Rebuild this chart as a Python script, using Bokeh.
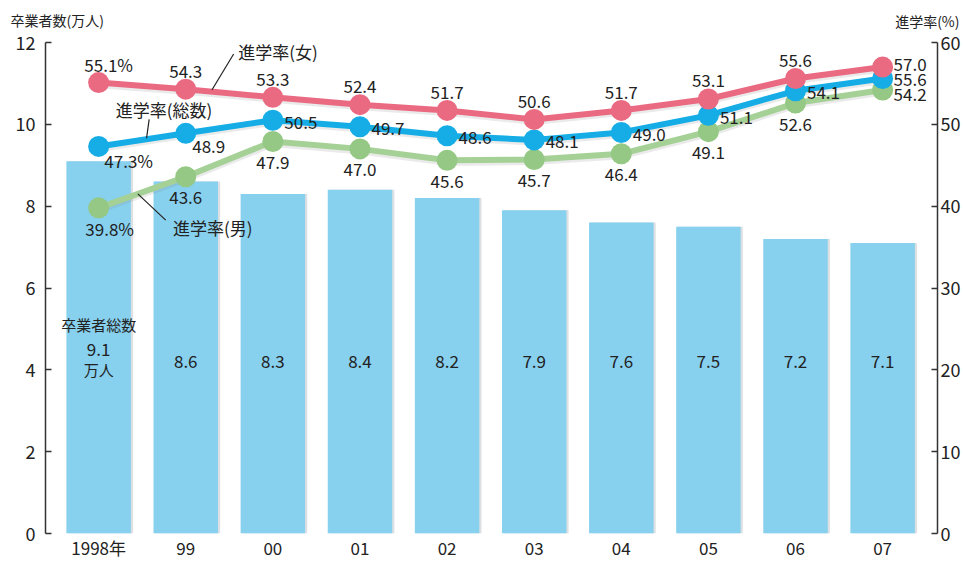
from bokeh.plotting import figure
from bokeh.models import Range1d, LinearAxis, FixedTicker, Title, ColumnDataSource
from bokeh.core.properties import value
from bokeh.embed import file_html
from bokeh.resources import INLINE

# ---- data ----
years = ["1998年", "99", "00", "01", "02", "03", "04", "05", "06", "07"]
graduates = [9.1, 8.6, 8.3, 8.4, 8.2, 7.9, 7.6, 7.5, 7.2, 7.1]          # 万人
rate_female = [55.1, 54.3, 53.3, 52.4, 51.7, 50.6, 51.7, 53.1, 55.6, 57.0]
rate_total = [47.3, 48.9, 50.5, 49.7, 48.6, 48.1, 49.0, 51.1, 54.1, 55.6]
rate_male = [39.8, 43.6, 47.9, 47.0, 45.6, 45.7, 46.4, 49.1, 52.6, 54.2]
left_ticks = [0, 2, 4, 6, 8, 10, 12]
right_ticks = [0, 10, 20, 30, 40, 50, 60]

FONT = "Noto Sans CJK JP"
BAR = "#87d0ee"
PINK = "#ea6a82"
BLUE = "#16ade6"
GREEN = "#94c884"
GREEN_LINE = "#a5d196"
TXT = "#222222"
AX = "#333333"

n = len(years)
xs = list(range(n))

p = figure(width=963, height=562, output_backend="svg", toolbar_location=None,
           x_range=Range1d(-0.61, 9.63), y_range=Range1d(0, 12),
           min_border_left=45, min_border_right=20, min_border_top=40, min_border_bottom=10)
p.extra_y_ranges = {"rate": Range1d(0, 60)}
p.outline_line_color = None
p.grid.grid_line_color = None
p.background_fill_color = "white"
p.border_fill_color = "white"

# axis titles (left one = outer row, right one = inner row)
p.title.text = "卒業者数(万人)"
p.title.align = "left"
p.title.offset = -35
p.title.vertical_align = "bottom"
p.title.standoff = -58
p.title.text_font = FONT
p.title.text_font_size = "14px"
p.title.text_font_style = "normal"
p.title.text_color = TXT
p.add_layout(Title(text="進学率(%)", align="right", offset=-22, standoff=20, vertical_align="top",
                   text_font=FONT, text_font_size="14px", text_font_style="normal",
                   text_color=TXT), "above")

# axes
p.xaxis.ticker = FixedTicker(ticks=xs)
p.xaxis.major_label_overrides = {i: years[i] for i in xs}
p.xaxis.axis_line_color = None
p.xaxis.major_tick_line_color = None
p.xaxis.major_tick_in = 0
p.xaxis.major_tick_out = 0
p.xaxis.minor_tick_line_color = None
p.xaxis.major_label_text_font = FONT
p.xaxis.major_label_text_font_size = "17px"
p.xaxis.major_label_text_color = TXT
p.xaxis.major_label_standoff = 1

p.yaxis.ticker = FixedTicker(ticks=left_ticks)
p.yaxis.axis_line_color = AX
p.yaxis.axis_line_width = 1.5
p.yaxis.major_tick_in = 6
p.yaxis.major_tick_out = 0
p.yaxis.major_tick_line_color = AX
p.yaxis.major_tick_line_width = 1.5
p.yaxis.minor_tick_line_color = None
p.yaxis.major_label_text_font = FONT
p.yaxis.major_label_text_font_size = "18px"
p.yaxis.major_label_text_color = TXT
p.yaxis.major_label_standoff = 10

ry = LinearAxis(y_range_name="rate", ticker=FixedTicker(ticks=right_ticks))
ry.axis_line_color = AX
ry.axis_line_width = 1.5
ry.major_tick_in = 6
ry.major_tick_out = 0
ry.major_tick_line_color = AX
ry.major_tick_line_width = 1.5
ry.minor_tick_line_color = None
ry.major_label_text_font = FONT
ry.major_label_text_font_size = "18px"
ry.major_label_text_color = TXT
ry.major_label_standoff = 3
p.add_layout(ry, "right")

# bars
bsrc = ColumnDataSource(dict(x=xs, top=graduates, xs_sh=[x + 0.025 for x in xs]))
p.vbar(x="xs_sh", top="top", width=0.74, source=bsrc, fill_color="#9aa6b0", fill_alpha=0.35, line_color=None)
p.vbar(x="x", top="top", width=0.74, source=bsrc, fill_color=BAR, line_color=None)

# bar labels
blab = ColumnDataSource(dict(x=xs[1:], y=[4.2] * (n - 1), t=["%.1f" % v for v in graduates[1:]]))
p.text(x="x", y="y", text="t", source=blab, text_align="center", text_baseline="middle",
       text_font=value(FONT), text_font_size="17px", text_color=TXT)
first = ColumnDataSource(dict(x=[0, 0, 0], y=[5.1, 4.5, 4.0],
                              t=["卒業者総数", "%.1f" % graduates[0], "万人"],
                              fs=["15px", "17px", "15px"]))
p.text(x="x", y="y", text="t", source=first, text_align="center", text_baseline="middle",
       text_font=value(FONT), text_font_size="fs", text_color=TXT)

# lines
for vals, lc, mc in [(rate_male, GREEN_LINE, GREEN), (rate_total, BLUE, BLUE), (rate_female, PINK, PINK)]:
    p.line(xs, [v - 0.25 for v in vals], y_range_name="rate", line_color="#888888", line_alpha=0.18, line_width=7)
    p.line(xs, vals, y_range_name="rate", line_color=lc, line_width=6)
    p.scatter(xs, vals, y_range_name="rate", size=21, fill_color=mc, line_color=None)


def fmt(vals):
    return [("%.1f%%" if i == 0 else "%.1f") % v for i, v in enumerate(vals)]


def add_labels(vals, dx, dy, align="center", idx=None):
    idx = idx if idx is not None else list(range(n))
    t = fmt(vals)
    src = ColumnDataSource(dict(x=[xs[i] for i in idx], y=[vals[i] for i in idx],
                                t=[t[i] for i in idx], dx=[dx[i] for i in idx], dy=[dy[i] for i in idx]))
    p.text(x="x", y="y", text="t", source=src, y_range_name="rate", x_offset="dx", y_offset="dy",
           text_align=align, text_baseline="middle", text_font=value(FONT),
           text_font_size="17px", text_color=TXT)


mid = list(range(n - 1))
# female: above
add_labels(rate_female, [10] + [0] * (n - 1), [-18] * n, idx=mid)
# total: right
add_labels(rate_total, [30, 23] + [28] * (n - 2), [14, 13] + [2] * (n - 2), idx=mid)
# male: below
add_labels(rate_male, [11] + [0] * (n - 1), [21] * n, idx=mid)
# last year: right, left aligned
add_labels(rate_female, [11] * n, [-3] * n, align="left", idx=[n - 1])
add_labels(rate_total, [11] * n, [1] * n, align="left", idx=[n - 1])
add_labels(rate_male, [11] * n, [5] * n, align="left", idx=[n - 1])

# callouts
call = ColumnDataSource(dict(x=[2.06, 0.75, 1.31], y=[58.9, 51.8, 37.4],
                             t=["進学率(女)", "進学率(総数)", "進学率(男)"]))
p.text(x="x", y="y", text="t", source=call, y_range_name="rate", text_align="center",
       text_baseline="middle", text_font=value(FONT), text_font_size="17px", text_color=TXT)
p.segment(x0=[1.55, 0.58, 0.45], y0=[58.6, 50.6, 41.5], x1=[1.30, 0.55, 0.77], y1=[54.2, 48.3, 38.3],
          y_range_name="rate", line_color=TXT, line_width=1.2)

open("out.html", "w").write(file_html(p, INLINE))
